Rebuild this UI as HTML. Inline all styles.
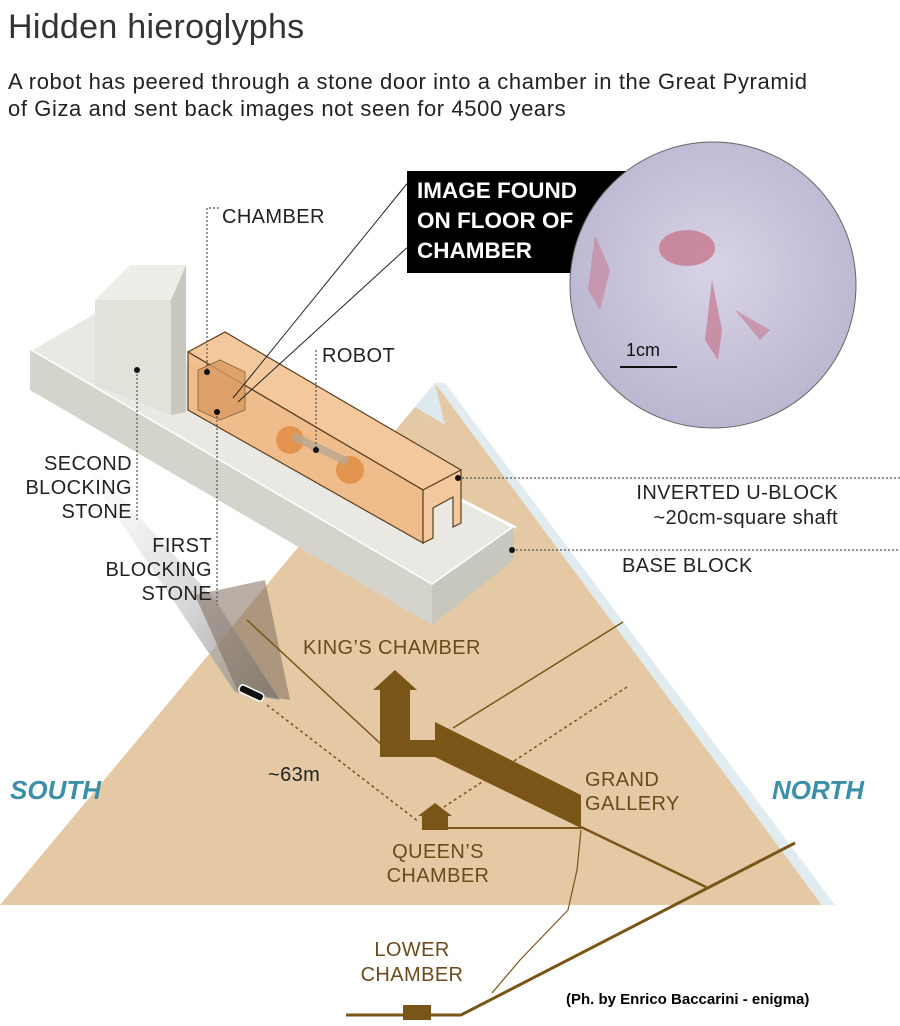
<!DOCTYPE html>
<html><head><meta charset="utf-8"><style>
html,body{margin:0;padding:0;background:#fff;}
body{width:900px;height:1026px;position:relative;overflow:hidden;font-family:"Liberation Sans","DejaVu Sans",sans-serif;}
.t{position:absolute;white-space:nowrap;}
.l{font-size:20px;letter-spacing:0.4px;}
</style></head><body>
<svg width="900" height="1026" style="position:absolute;left:0;top:0" xmlns="http://www.w3.org/2000/svg">
<defs>
<linearGradient id="sh" x1="0" y1="0" x2="1" y2="1"><stop offset="0" stop-color="#fff" stop-opacity="0"/><stop offset="1" stop-color="#8a8a8a" stop-opacity="0.9"/></linearGradient>
<radialGradient id="ph" cx="0.5" cy="0.45" r="0.6"><stop offset="0" stop-color="#d8d3e6"/><stop offset="1" stop-color="#b9b4cf"/></radialGradient>
</defs>
<!-- pyramid -->
<polygon points="435,383 0,905 822,905" fill="#e5c9a4"/>
<polygon points="435,383 415,407 445,425" fill="#dce9ee"/>
<polygon points="435,383 822,905 835,905 445,383" fill="#e0ecf0"/>
<!-- shadow beam -->
<polygon points="55,425 215,600 280,700 235,692" fill="url(#sh)"/>
<polygon points="195,595 265,580 290,700 238,692" fill="#7d6c5c" opacity="0.55"/>
<!-- internals -->
<line x1="247" y1="620" x2="382" y2="745" stroke="#7a5518" stroke-width="1.5"/>
<line x1="453" y1="728" x2="623" y2="622" stroke="#7a5518" stroke-width="1.5"/>
<line x1="267" y1="705" x2="419" y2="822" stroke="#7a5518" stroke-width="1.5" stroke-dasharray="3,3"/>
<line x1="627" y1="687" x2="421" y2="822" stroke="#7a5518" stroke-width="1.5" stroke-dasharray="3,3"/>
<polygon points="435,722 581,795 581,828 435,757" fill="#7a5518"/>
<polygon points="373,690 395,670 417,690 410,690 410,740 435,740 435,757 380,757 380,690" fill="#7a5518"/>
<polygon points="418,816 435,803 452,816 448,816 448,830 422,830 422,816" fill="#7a5518"/>
<line x1="445" y1="828" x2="581" y2="828" stroke="#7a5518" stroke-width="2"/>
<line x1="581" y1="827" x2="706" y2="887" stroke="#7a5518" stroke-width="2.5"/>
<polyline points="795,843 461,1015 346,1015" fill="none" stroke="#7a5518" stroke-width="3"/>
<polyline points="581,830 577,870 568,910 520,960 492,993" fill="none" stroke="#7a5518" stroke-width="1.2"/>
<rect x="403" y="1005" width="28" height="15" fill="#7a5518"/>
<!-- robot icon -->
<g transform="translate(245,690) rotate(25)"><rect x="-6" y="-4" width="26" height="8" rx="3" fill="#111" stroke="#fff" stroke-width="1.5"/></g>
<!-- base slab -->
<polygon points="30,350 95,312 514,527 432,585" fill="#e9e8e2" stroke="#fff" stroke-width="3"/>
<polygon points="30,350 432,585 432,625 30,390" fill="#d5d4cc"/>
<polygon points="432,585 514,527 514,560 432,625" fill="#c8c7bd"/>
<!-- cube -->
<polygon points="95,300 130,265 186,265 171,300" fill="#eeede7"/>
<polygon points="95,300 171,300 171,415 95,385" fill="#e2e1da"/>
<polygon points="171,300 186,265 186,412 171,415" fill="#c9c8bf"/>
<!-- shaft -->
<polygon points="188,352 225,332 461,470 423,490" fill="#f3c89c" stroke="#5a4020" stroke-width="1.2"/>
<polygon points="188,352 423,490 423,543 188,410" fill="#f0b47c" fill-opacity="0.85" stroke="#5a4020" stroke-width="1.2"/>
<polygon points="423,490 461,470 461,523 453,527 453,497 433,508 433,538 423,543" fill="#f3c89c" stroke="#5a4020" stroke-width="1.2"/>
<polygon points="198,370 220,360 245,372 245,410 220,420 198,410" fill="#d89a60" opacity="0.8" stroke="#6a4a22" stroke-width="0.8"/>
<circle cx="290" cy="440" r="14" fill="#e08a40" opacity="0.8"/>
<circle cx="350" cy="470" r="14" fill="#e08a40" opacity="0.8"/>
<rect x="290" y="445" width="60" height="8" fill="#b8a890" opacity="0.8" transform="rotate(25 320 450)"/>
<!-- pointer lines -->
<line x1="233" y1="398" x2="410" y2="180" stroke="#222" stroke-width="1"/>
<line x1="238" y1="402" x2="410" y2="245" stroke="#222" stroke-width="1"/>
<!-- dotted leaders -->
<g stroke="#555" stroke-width="1.2" stroke-dasharray="2,2" fill="none">
<polyline points="219,208 207,208 207,372"/>
<line x1="137" y1="370" x2="137" y2="522"/>
<line x1="217" y1="412" x2="217" y2="605"/>
<line x1="316" y1="350" x2="316" y2="450"/>
<line x1="458" y1="478" x2="900" y2="478"/>
<line x1="512" y1="550" x2="900" y2="550"/>
</g>
<g fill="#111"><circle cx="137" cy="370" r="3"/><circle cx="207" cy="372" r="3"/><circle cx="217" cy="412" r="3"/><circle cx="316" cy="450" r="3"/><circle cx="458" cy="478" r="3"/><circle cx="512" cy="550" r="3"/></g>
<!-- label box -->
<rect x="407" y="171" width="220" height="102" fill="#000"/>
<!-- photo -->
<circle cx="713" cy="285" r="143" fill="url(#ph)" stroke="#666" stroke-width="1"/>
<ellipse cx="687" cy="248" rx="28" ry="18" fill="#c6788f" opacity="0.8"/>
<path d="M712,280 L722,330 L718,360 L705,340 Z" fill="#c6788f" opacity="0.7"/>
<path d="M735,310 L770,330 L760,340 Z" fill="#c6788f" opacity="0.6"/>
<path d="M595,235 L610,270 L600,310 L588,290 Z" fill="#c6788f" opacity="0.55"/>
<line x1="620" y1="367" x2="677" y2="367" stroke="#111" stroke-width="2"/>
</svg>
<div class="t" style="left:8px;top:8px;font-size:34px;color:#333;letter-spacing:0.3px;">Hidden hieroglyphs</div>
<div class="t" style="left:8px;top:68px;font-size:22px;color:#222;line-height:27px;letter-spacing:0.6px;">A robot has peered through a stone door into a chamber in the Great Pyramid<br>of Giza and sent back images not seen for 4500 years</div>
<div class="t" style="left:417px;top:176px;font-size:22.5px;font-weight:bold;color:#fff;line-height:30px;">IMAGE FOUND<br>ON FLOOR OF<br>CHAMBER</div>
<div class="t" style="left:626px;top:340px;font-size:18px;color:#111;">1cm</div>
<div class="t l" style="left:222px;top:206px;color:#222;">CHAMBER</div>
<div class="t l" style="left:322px;top:345px;color:#222;">ROBOT</div>
<div class="t l" style="right:768px;top:452px;color:#222;line-height:24px;text-align:right;">SECOND<br>BLOCKING<br>STONE</div>
<div class="t l" style="right:688px;top:534px;color:#222;line-height:24px;text-align:right;">FIRST<br>BLOCKING<br>STONE</div>
<div class="t l" style="right:62px;top:481px;color:#222;line-height:25px;text-align:right;">INVERTED U-BLOCK<br>~20cm-square shaft</div>
<div class="t l" style="left:622px;top:555px;color:#222;">BASE BLOCK</div>
<div class="t l" style="left:303px;top:637px;color:#6b4a1c;">KING’S CHAMBER</div>
<div class="t l" style="left:268px;top:764px;color:#222;">~63m</div>
<div class="t l" style="left:585px;top:768px;color:#6b4a1c;line-height:24px;">GRAND<br>GALLERY</div>
<div class="t l" style="left:378px;top:840px;width:120px;text-align:center;color:#6b4a1c;line-height:24px;">QUEEN’S<br>CHAMBER</div>
<div class="t l" style="left:352px;top:938px;width:120px;text-align:center;color:#6b4a1c;line-height:25px;">LOWER<br>CHAMBER</div>
<div class="t" style="left:10px;top:775px;font-size:26px;font-style:italic;font-weight:bold;color:#3b8fa8;">SOUTH</div>
<div class="t" style="left:772px;top:775px;font-size:26px;font-style:italic;font-weight:bold;color:#3b8fa8;">NORTH</div>
<div class="t" style="left:566px;top:991px;font-size:15px;font-weight:bold;color:#000;">(Ph. by Enrico Baccarini - enigma)</div>
</body></html>
